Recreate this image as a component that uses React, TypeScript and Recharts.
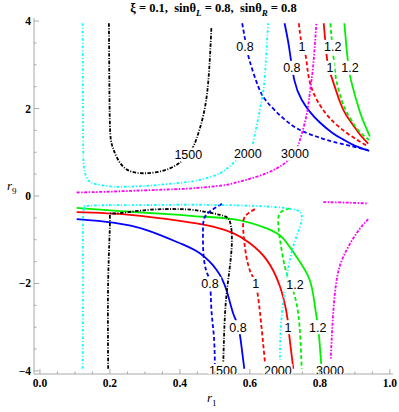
import React from 'react';
import { ComposedChart, Line, Scatter, XAxis, YAxis } from 'recharts';

type Pt = { x: number; y: number };
const pts = (a: number[][]): Pt[] => a.map(([x, y]) => ({ x, y }));

// contour values (r1, r9)
const blueSolidUpper = pts([[0.699, 3.95], [0.712, 3.4], [0.727, 2.65], [0.748, 2.2], [0.771, 1.93], [0.8, 1.68], [0.838, 1.43], [0.865, 1.3], [0.895, 1.17], [0.941, 1.03]]);
const blueDashedUpper = pts([[0.578, 3.95], [0.588, 3.5], [0.6, 3.07], [0.624, 2.5], [0.648, 2.16], [0.695, 1.78], [0.743, 1.51], [0.79, 1.36], [0.838, 1.24], [0.938, 1.05]]);
const redSolidUpper = pts([[0.811, 3.95], [0.817, 3.4], [0.823, 3.0], [0.833, 2.73], [0.857, 2.16], [0.875, 1.85], [0.895, 1.62], [0.915, 1.4], [0.938, 1.2]]);
const redDashedUpper = pts([[0.74, 3.95], [0.748, 3.5], [0.76, 3.18], [0.771, 2.61], [0.8, 2.08], [0.838, 1.7], [0.886, 1.39], [0.938, 1.13]]);
const greenSolidUpper = pts([[0.87, 3.95], [0.876, 3.4], [0.882, 2.95], [0.89, 2.61], [0.914, 1.93], [0.93, 1.6], [0.943, 1.36]]);
const greenDashedUpper = pts([[0.83, 3.95], [0.836, 3.4], [0.842, 2.95], [0.848, 2.61], [0.862, 2.2], [0.876, 1.93], [0.905, 1.55], [0.941, 1.28]]);

const blueSolidLower = pts([[0.105, -0.53], [0.209, -0.61], [0.305, -0.78], [0.4, -1.08], [0.457, -1.31], [0.505, -1.69], [0.533, -2.15], [0.552, -2.68], [0.567, -2.99], [0.576, -3.44], [0.584, -3.95]]);
const blueDashedLower = pts([[0.52, -0.18], [0.49, -0.33], [0.47, -0.5], [0.466, -0.8], [0.467, -1.3], [0.475, -1.7], [0.486, -2.0], [0.49, -2.6], [0.497, -3.2], [0.5, -3.85]]);
const redSolidLower = pts([[0.105, -0.37], [0.257, -0.43], [0.4, -0.57], [0.457, -0.64], [0.495, -0.7], [0.552, -0.85], [0.6, -1.08], [0.648, -1.46], [0.686, -2.07], [0.705, -2.68], [0.71, -2.99], [0.714, -3.29], [0.724, -3.95]]);
const redDashedLower = pts([[0.614, -0.3], [0.586, -0.47], [0.581, -0.78], [0.59, -1.39], [0.605, -1.8], [0.617, -2.01], [0.629, -2.68], [0.643, -3.8]]);
const greenSolidLower = pts([[0.105, -0.27], [0.257, -0.36], [0.4, -0.43], [0.457, -0.47], [0.552, -0.53], [0.648, -0.74], [0.695, -0.97], [0.733, -1.39], [0.771, -1.92], [0.786, -2.53], [0.795, -2.99], [0.8, -3.44], [0.805, -3.95]]);
const greenDashedLower = pts([[0.714, -0.28], [0.69, -0.36], [0.681, -0.55], [0.686, -1.0], [0.7, -1.62], [0.717, -2.03], [0.738, -2.68], [0.748, -3.95]]);

const black1500Upper = pts([[0.197, 3.95], [0.198, 3.0], [0.2, 1.62], [0.209, 1.09], [0.238, 0.67], [0.295, 0.52], [0.371, 0.63], [0.424, 0.95], [0.448, 1.32], [0.467, 1.85], [0.481, 2.61], [0.49, 3.85]]);
const black1500Lower = pts([[0.195, -3.95], [0.195, -1.92], [0.2, -0.59], [0.214, -0.4], [0.305, -0.32], [0.4, -0.3], [0.457, -0.34], [0.514, -0.43], [0.543, -0.59], [0.548, -1.16], [0.538, -1.92], [0.529, -2.68], [0.524, -3.8]]);
const cyan2000Upper = pts([[0.122, 3.95], [0.123, 2.0], [0.124, 0.9], [0.128, 0.55], [0.138, 0.36], [0.16, 0.27], [0.2, 0.22], [0.229, 0.21], [0.3, 0.23], [0.4, 0.3], [0.457, 0.37], [0.514, 0.52], [0.552, 0.75], [0.594, 1.0], [0.61, 1.24], [0.633, 2.16], [0.643, 2.77], [0.652, 3.95]]);
const cyan2000Lower = pts([[0.122, -3.95], [0.123, -2.0], [0.124, -0.4], [0.128, -0.28], [0.133, -0.23], [0.257, -0.21], [0.457, -0.2], [0.648, -0.24], [0.72, -0.3], [0.743, -0.36], [0.748, -0.55], [0.733, -0.93], [0.71, -1.62], [0.69, -2.83], [0.686, -3.75]]);
const magenta3000Upper = pts([[0.105, 0.08], [0.2, 0.1], [0.3, 0.13], [0.4, 0.16], [0.457, 0.19], [0.52, 0.24], [0.552, 0.29], [0.619, 0.44], [0.676, 0.63], [0.71, 0.82], [0.729, 1.0], [0.743, 1.28], [0.762, 1.85], [0.772, 2.4], [0.781, 2.99], [0.79, 3.95]]);
const magenta3000Right = pts([[0.81, -0.14], [0.87, -0.15], [0.938, -0.17]]);
const magenta3000Lower = pts([[0.938, -0.53], [0.905, -0.85], [0.867, -1.39], [0.848, -1.92], [0.838, -2.68], [0.831, -3.75]]);

const contourLabels = [
  { x: 0.586, y: 3.41, text: '0.8' }, { x: 0.749, y: 3.41, text: '1' }, { x: 0.837, y: 3.41, text: '1.2' },
  { x: 0.72, y: 2.93, text: '0.8' }, { x: 0.829, y: 2.93, text: '1' }, { x: 0.886, y: 2.93, text: '1.2' },
  { x: 0.424, y: 0.95, text: '1500' }, { x: 0.594, y: 0.98, text: '2000' }, { x: 0.729, y: 0.98, text: '3000' },
  { x: 0.486, y: -2.01, text: '0.8' }, { x: 0.617, y: -2.01, text: '1' }, { x: 0.729, y: -2.03, text: '1.2' },
  { x: 0.566, y: -3.0, text: '0.8' }, { x: 0.709, y: -3.0, text: '1' }, { x: 0.794, y: -3.0, text: '1.2' },
  { x: 0.523, y: -4.0, text: '1500' }, { x: 0.68, y: -4.0, text: '2000' }, { x: 0.829, y: -4.0, text: '3000' },
];

const xTicks = [0, 0.05, 0.1, 0.15, 0.2, 0.25, 0.3, 0.35, 0.4, 0.45, 0.5, 0.55, 0.6, 0.65, 0.7, 0.75, 0.8, 0.85, 0.9, 0.95, 1.0];
const xMajor = [0, 0.2, 0.4, 0.6, 0.8, 1.0];
const yTicks = [-4, -3.5, -3, -2.5, -2, -1.5, -1, -0.5, 0, 0.5, 1, 1.5, 2, 2.5, 3, 3.5, 4];
const yMajor = [-4, -2, 0, 2, 4];

const DASHED = '4 2.5';
const series = [
  { data: blueSolidUpper, color: '#0000ff' }, { data: blueSolidLower, color: '#0000ff' },
  { data: redSolidUpper, color: '#ff0000' }, { data: redSolidLower, color: '#ff0000' },
  { data: greenSolidUpper, color: '#00f000' }, { data: greenSolidLower, color: '#00f000' },
  { data: blueDashedUpper, color: '#0000ff', dash: DASHED }, { data: blueDashedLower, color: '#0000ff', dash: DASHED },
  { data: redDashedUpper, color: '#ff0000', dash: DASHED }, { data: redDashedLower, color: '#ff0000', dash: DASHED },
  { data: greenDashedUpper, color: '#00f000', dash: DASHED }, { data: greenDashedLower, color: '#00f000', dash: DASHED },
  { data: black1500Upper, color: '#000000', dash: '3.5 1.5 1 1.5' }, { data: black1500Lower, color: '#000000', dash: '3.5 1.5 1 1.5' },
  { data: cyan2000Upper, color: '#00ffff', dash: '2.5 2 1 2' }, { data: cyan2000Lower, color: '#00ffff', dash: '2.5 2 1 2' },
  { data: magenta3000Upper, color: '#ff00ff', dash: '3 1.5 1.5 1.5' }, { data: magenta3000Right, color: '#ff00ff', dash: '3 1.5 1.5 1.5' },
  { data: magenta3000Lower, color: '#ff00ff', dash: '3 1.5 1.5 1.5' },
];

const FRAME = '#a8a8a8';
const isMajor = (list: number[], v: number) => list.some((m) => Math.abs(m - v) < 1e-6);
const fmt = (v: number, d: number) => (v < 0 ? '\u2212' : '') + Math.abs(v).toFixed(d);

const XTick = (props: any) => {
  const { x, y, payload, side } = props;
  const major = isMajor(xMajor, payload.value);
  const len = major ? 5 : 2.5;
  const dir = side === 'top' ? 1 : -1;
  return (
    <g>
      <line x1={x} x2={x} y1={y} y2={y + dir * len} stroke={FRAME} />
      {major && side !== 'top' && (
        <text x={x} y={y + 13} textAnchor="middle" fontSize={11.5} fontWeight="bold" fontFamily="Liberation Serif">
          {fmt(payload.value, 1)}
        </text>
      )}
    </g>
  );
};

const YTick = (props: any) => {
  const { x, y, payload, side } = props;
  const major = isMajor(yMajor, payload.value);
  const len = major ? 5 : 2.5;
  const dir = side === 'right' ? -1 : 1;
  return (
    <g>
      <line x1={x} x2={x + dir * len} y1={y} y2={y} stroke={FRAME} />
      {major && side !== 'right' && (
        <text x={x - 3} y={y + 4} textAnchor="end" fontSize={11.5} fontWeight="bold" fontFamily="Liberation Serif">
          {fmt(payload.value, 0)}
        </text>
      )}
    </g>
  );
};

const LabelShape = (props: any) => {
  const { cx, cy, payload } = props;
  const w = payload.text.length * 6.8 + 2;
  return (
    <g>
      <rect x={cx - w / 2} y={cy - 7} width={w} height={14} fill="#ffffff" />
      <text x={cx} y={cy + 4.5} textAnchor="middle" fontSize={12.5} fontFamily="Liberation Sans" fill="#000">
        {payload.text}
      </text>
    </g>
  );
};

const xDomain = [-0.017, 1.009];
const yDomain = [-4.07, 4.07];

export default function App() {
  return (
    <div style={{ position: 'absolute', left: 0, top: 0, width: 399, height: 412, background: '#fff', fontFamily: 'Liberation Serif' }}>
      <div style={{ position: 'absolute', left: 34, width: 359, top: 0, textAlign: 'center', fontSize: 12.5, fontWeight: 'bold', lineHeight: '16px' }}>
        ξ = 0.1,&nbsp; sinθ<sub style={{ fontStyle: 'italic', fontSize: 9 }}>L</sub> = 0.8,&nbsp; sinθ<sub style={{ fontStyle: 'italic', fontSize: 9 }}>R</sub> = 0.8
      </div>
      <ComposedChart width={399} height={412} margin={{ top: 18, right: 6, bottom: 18, left: 0 }}>
        <XAxis xAxisId={0} dataKey="x" type="number" domain={xDomain} allowDataOverflow ticks={xTicks} interval={0}
          tickSize={0} tickMargin={0} tick={<XTick side="bottom" />} axisLine={{ stroke: FRAME }} height={20} />
        <XAxis xAxisId="top" orientation="top" dataKey="x" type="number" domain={xDomain} allowDataOverflow ticks={xTicks} interval={0}
          tickSize={0} tickMargin={0} tick={<XTick side="top" />} axisLine={{ stroke: FRAME }} height={0} />
        <YAxis yAxisId={0} dataKey="y" type="number" domain={yDomain} allowDataOverflow ticks={yTicks} interval={0}
          tickSize={0} tickMargin={0} tick={<YTick side="left" />} axisLine={{ stroke: FRAME }} width={34} />
        <YAxis yAxisId="right" orientation="right" dataKey="y" type="number" domain={yDomain} allowDataOverflow ticks={yTicks} interval={0}
          tickSize={0} tickMargin={0} tick={<YTick side="right" />} axisLine={{ stroke: FRAME }} width={0} />
        {series.map((s, i) => (
          <Line key={i} data={s.data} dataKey="y" type="natural" stroke={s.color} strokeWidth={1.8}
            strokeDasharray={s.dash} dot={false} activeDot={false} isAnimationActive={false} />
        ))}
        <Scatter data={contourLabels} dataKey="y" shape={<LabelShape />} isAnimationActive={false} />
      </ComposedChart>
      <div style={{ position: 'absolute', left: 207, top: 390, fontSize: 13, fontStyle: 'italic' }}>
        r<sub style={{ fontSize: 9, fontStyle: 'normal' }}>1</sub>
      </div>
      <div style={{ position: 'absolute', left: 7, top: 178, fontSize: 13, fontStyle: 'italic' }}>
        r<sub style={{ fontSize: 9, fontStyle: 'normal' }}>9</sub>
      </div>
    </div>
  );
}
